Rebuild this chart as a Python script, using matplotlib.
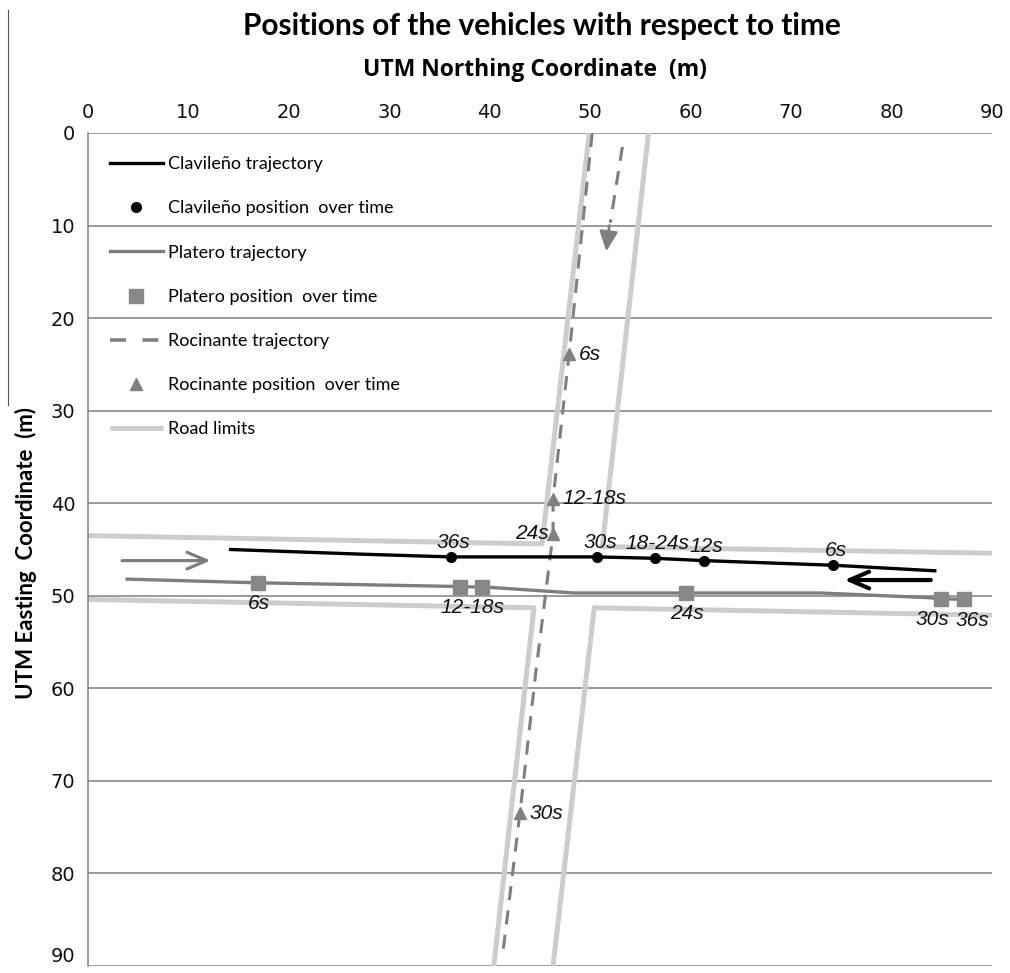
import matplotlib
matplotlib.use("Agg")
import matplotlib.pyplot as plt
from matplotlib.lines import Line2D
import numpy as np

# ---------------- data ----------------
# Clavileño trajectory (northing x, easting y)
clav_traj_x = [14.2, 27.1, 36.1, 50.7, 56.4, 61.3, 74.2, 84.3]
clav_traj_y = [45.0, 45.5, 45.8, 45.8, 45.95, 46.2, 46.7, 47.3]
# Clavileño positions over time
clav_pos_x = [74.2, 61.3, 56.4, 50.7, 36.1]
clav_pos_y = [46.7, 46.2, 45.95, 45.8, 45.8]
clav_labels = ["6s", "12s", "18-24s", "30s", "36s"]

# Platero trajectory
plat_traj_x = [3.9, 16.9, 27.1, 37.0, 40.1, 48.4, 59.5, 73.0, 83.6, 84.9, 87.2]
plat_traj_y = [48.2, 48.6, 48.8, 49.0, 49.1, 49.7, 49.7, 49.7, 50.2, 50.3, 50.4]
# Platero positions over time
plat_pos_x = [16.9, 37.0, 39.2, 59.5, 84.9, 87.2]
plat_pos_y = [48.6, 49.0, 49.0, 49.7, 50.3, 50.4]
plat_labels = ["6s", "12-18s", "24s", "30s", "36s"]
plat_label_points = [[0], [1, 2], [3], [4], [5]]

# Rocinante trajectory (main dashed path + short southbound segment)
roc_traj_x = [50.2, 47.9, 46.3, 46.3, 44.6, 43.0, 41.3]
roc_traj_y = [0.0, 23.9, 39.5, 43.3, 58.1, 73.5, 88.6]
roc_south_x = [53.2, 52.0]
roc_south_y = [1.5, 9.7]
# Rocinante positions over time
roc_pos_x = [47.9, 46.3, 46.3, 43.0]
roc_pos_y = [23.9, 39.5, 43.3, 73.5]
roc_labels = ["6s", "12-18s", "24s", "30s"]
roc_label_side = ["right", "right", "left", "right"]

# Road limits (four corner polylines)
road_ul_x = [0.0, 45.2, 49.9]
road_ul_y = [43.5, 44.4, 0.0]
road_ur_x = [55.8, 51.2, 90.0]
road_ur_y = [0.0, 44.7, 45.4]
road_ll_x = [0.0, 44.4, 40.4]
road_ll_y = [50.4, 51.3, 90.0]
road_lr_x = [46.3, 50.4, 90.0]
road_lr_y = [90.0, 51.3, 52.1]

# Direction arrows: (x_start, y_start, x_end, y_end)
arrow_platero = (3.4, 46.2, 12.2, 46.2)
arrow_clavileno = (83.9, 48.3, 75.3, 48.3)
arrow_rocinante = (51.9, 10.0, 51.6, 12.8)

x_ticks = [0, 10, 20, 30, 40, 50, 60, 70, 80, 90]
y_ticks = [0, 10, 20, 30, 40, 50, 60, 70, 80, 90]

# ---------------- styling ----------------
BLACK = "#000000"
PLAT = "#7d7d7d"
ROAD = "#cdcdcd"
ROC = "#7f7f7f"
GRID = "#808080"
plat_label_dx = [0, 0, 0, -7, 5]   # horizontal nudges (points) for Platero labels

fig = plt.figure(figsize=(10.10, 9.73), dpi=100)
ax = fig.add_axes([88 / 1010, 1 - 966 / 973, 904 / 1010, 833 / 973])

ax.set_xlim(0, 90)
ax.set_ylim(90, 0)

# road limits
road_kw = dict(color=ROAD, lw=3.6, solid_capstyle="butt", zorder=2)
h_road, = ax.plot(road_ul_x, road_ul_y, **road_kw)
ax.plot(road_ur_x, road_ur_y, **road_kw)
ax.plot(road_ll_x, road_ll_y, **road_kw)
ax.plot(road_lr_x, road_lr_y, **road_kw)

# trajectories
h_clav, = ax.plot(clav_traj_x, clav_traj_y, color=BLACK, lw=2.4, zorder=4)
h_plat, = ax.plot(plat_traj_x, plat_traj_y, color=PLAT, lw=2.4, zorder=3)
ax.plot(roc_traj_x, roc_traj_y, color=ROC, lw=2.2, dashes=(4.6, 3.4), zorder=3)
ax.plot(roc_south_x, roc_south_y, color=ROC, lw=2.2, dashes=(4.6, 3.4), zorder=3)
h_roc = Line2D([], [], color=ROC, lw=2.6, dashes=(4.4, 4.6))  # legend proxy

# positions
h_clav_p, = ax.plot(clav_pos_x, clav_pos_y, "o", color=BLACK, ms=7, ls="none", zorder=6)
h_plat_p, = ax.plot(plat_pos_x, plat_pos_y, "s", color="#888888", ms=10.5, ls="none", zorder=5)
h_roc_p, = ax.plot(roc_pos_x, roc_pos_y, "^", color="#808080", ms=9, ls="none", zorder=5)

lab_font = dict(family="Liberation Sans", style="italic", size=15, color="#111111")
for lx, ly, t in zip(clav_pos_x, clav_pos_y, clav_labels):
    ax.annotate(t, (lx, ly), xytext=(2, 10.5), textcoords="offset points",
                ha="center", va="center", zorder=7, **lab_font)
for t, idx, dx in zip(plat_labels, plat_label_points, plat_label_dx):
    px = np.mean([plat_pos_x[i] for i in idx])
    py = np.mean([plat_pos_y[i] for i in idx])
    ax.annotate(t, (px, py), xytext=(1 + dx, -15), textcoords="offset points",
                ha="center", va="center", zorder=7, **lab_font)
for lx, ly, t, side in zip(roc_pos_x, roc_pos_y, roc_labels, roc_label_side):
    if side == "right":
        ax.annotate(t, (lx, ly), xytext=(7, 0), textcoords="offset points",
                    ha="left", va="center", zorder=7, **lab_font)
    else:
        ax.annotate(t, (lx, ly), xytext=(-3, 0), textcoords="offset points",
                    ha="right", va="center", zorder=7, **lab_font)

# direction arrows
def draw_arrow(a, color, lw):
    ax.annotate("", xy=(a[2], a[3]), xytext=(a[0], a[1]),
                arrowprops=dict(arrowstyle="->,head_length=1.4,head_width=0.6",
                                color=color, lw=lw, shrinkA=0, shrinkB=0),
                zorder=6)

draw_arrow(arrow_platero, PLAT, 2.3)
draw_arrow(arrow_clavileno, BLACK, 3.0)
ax.annotate("", xy=(arrow_rocinante[2], arrow_rocinante[3]),
            xytext=(arrow_rocinante[0], arrow_rocinante[1]),
            arrowprops=dict(arrowstyle="-|>,head_length=1.2,head_width=0.55",
                            color=ROC, lw=2.0, shrinkA=0, shrinkB=0), zorder=6)

# axes styling
ax.set_axisbelow(True)
ax.yaxis.grid(True, color=GRID, lw=1.1)
ax.xaxis.grid(False)
for s in ["top", "right", "bottom"]:
    ax.spines[s].set_visible(False)
ax.spines["left"].set_color(GRID)
ax.spines["left"].set_linewidth(1.1)
ax.xaxis.tick_top()
ax.set_xticks(x_ticks)
ax.set_yticks(y_ticks)
ax.tick_params(axis="x", length=0, pad=8, labelsize=14, colors="#111111")
ax.tick_params(axis="y", length=0, pad=9, labelsize=14, colors="#111111")
ax.get_yticklabels()[-1].set_verticalalignment("bottom")

# legend
leg_handles = [h_clav, h_clav_p, h_plat, h_plat_p, h_roc, h_roc_p, h_road]
leg_labels = ["Clavileño trajectory", "Clavileño position  over time",
              "Platero trajectory", "Platero position  over time",
              "Rocinante trajectory", "Rocinante position  over time", "Road limits"]
leg = ax.legend(leg_handles, leg_labels, loc="upper left",
                bbox_to_anchor=(0.024, 0.972), frameon=False,
                prop=dict(family="Lato", size=13), handlelength=2.95,
                handletextpad=0.3, labelspacing=1.56, borderpad=0,
                borderaxespad=0, numpoints=1)

# titles
fig.text(0.537, 1 - 26 / 973, "Positions of the vehicles with respect to time",
         ha="center", va="center", fontsize=21.5, fontweight="bold", family="Lato")
fig.text(0.530, 1 - 70 / 973, "UTM Northing Coordinate  (m)",
         ha="center", va="center", fontsize=16.5, fontweight="bold", family="Open Sans")
fig.text(26 / 1010, 1 - 553 / 973, "UTM Easting  Coordinate  (m)", rotation=90,
         ha="center", va="center", fontsize=16, fontweight="bold", family="Lato")

# thin scan border line at far left
fig.add_artist(Line2D([8 / 1010, 8 / 1010], [1 - 10 / 973, 1 - 405 / 973],
                      color="#555555", lw=0.8))

fig.savefig("out.png", dpi=100, facecolor="white")
